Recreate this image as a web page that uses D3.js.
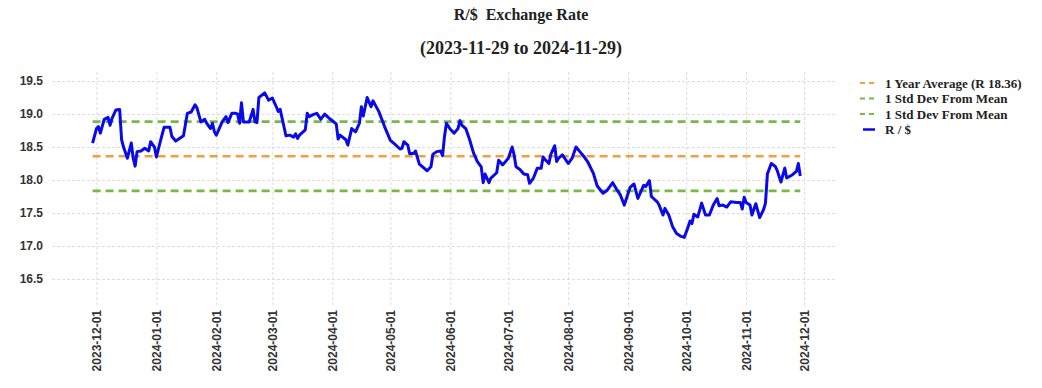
<!DOCTYPE html>
<html>
<head>
<meta charset="utf-8">
<script src="https://cdn.jsdelivr.net/npm/d3@7"></script>
<style>
  body { margin: 0; background: #fff; }
  .grid line { stroke: #d4d4d4; stroke-width: 0.8; stroke-dasharray: 3,2; }
  .grid path { display: none; }
  .tick text { font-family: "Liberation Sans", Arial, sans-serif; font-weight: bold; fill: #333; }
</style>
</head>
<body>
<svg id="chart" width="1042" height="388"></svg>
<script>
var dates = [
  "2023-11-29","2023-12-01","2023-12-02","2023-12-03","2023-12-05","2023-12-07","2023-12-08","2023-12-09",
  "2023-12-11","2023-12-13","2023-12-14","2023-12-15","2023-12-17","2023-12-19","2023-12-20","2023-12-21",
  "2023-12-22","2023-12-24","2023-12-26","2023-12-28","2023-12-29","2023-12-31","2024-01-01","2024-01-03",
  "2024-01-05","2024-01-08","2024-01-09","2024-01-11","2024-01-15","2024-01-17","2024-01-19","2024-01-21",
  "2024-01-22","2024-01-24","2024-01-26","2024-01-27","2024-01-29","2024-01-30","2024-01-31","2024-02-01",
  "2024-02-04","2024-02-06","2024-02-07","2024-02-09","2024-02-11","2024-02-12","2024-02-13","2024-02-14",
  "2024-02-15","2024-02-18","2024-02-20","2024-02-21","2024-02-22","2024-02-23","2024-02-26","2024-02-28",
  "2024-03-01","2024-03-03","2024-03-04","2024-03-05","2024-03-08","2024-03-10","2024-03-12","2024-03-13",
  "2024-03-14","2024-03-15","2024-03-18","2024-03-19","2024-03-20","2024-03-22","2024-03-24","2024-03-26",
  "2024-03-28","2024-03-31","2024-04-03","2024-04-04","2024-04-05","2024-04-08","2024-04-09","2024-04-11",
  "2024-04-13","2024-04-15","2024-04-16","2024-04-17","2024-04-19","2024-04-21","2024-04-22","2024-04-25",
  "2024-04-28","2024-05-01","2024-05-03","2024-05-06","2024-05-07","2024-05-08","2024-05-10","2024-05-11",
  "2024-05-13","2024-05-14","2024-05-16","2024-05-18","2024-05-20","2024-05-22","2024-05-23","2024-05-25",
  "2024-05-27","2024-05-28","2024-05-29","2024-05-30","2024-06-01","2024-06-03","2024-06-05","2024-06-06",
  "2024-06-07","2024-06-09","2024-06-11","2024-06-13","2024-06-15","2024-06-17","2024-06-18","2024-06-19",
  "2024-06-21","2024-06-22","2024-06-25","2024-06-26","2024-06-28","2024-06-29","2024-07-01","2024-07-03",
  "2024-07-04","2024-07-05","2024-07-07","2024-07-09","2024-07-11","2024-07-12","2024-07-14","2024-07-16",
  "2024-07-18","2024-07-19","2024-07-20","2024-07-22","2024-07-23","2024-07-25","2024-07-26","2024-07-27",
  "2024-07-29","2024-08-01","2024-08-03","2024-08-05","2024-08-07","2024-08-09","2024-08-11","2024-08-14",
  "2024-08-16","2024-08-19","2024-08-21","2024-08-24","2024-08-26","2024-08-28","2024-08-30","2024-09-02",
  "2024-09-04","2024-09-06","2024-09-09","2024-09-10","2024-09-12","2024-09-13","2024-09-16","2024-09-17",
  "2024-09-19","2024-09-20","2024-09-22","2024-09-24","2024-09-26","2024-09-28","2024-09-30","2024-10-02",
  "2024-10-03","2024-10-04","2024-10-05","2024-10-07","2024-10-09","2024-10-11","2024-10-13","2024-10-15",
  "2024-10-17","2024-10-18","2024-10-20","2024-10-22","2024-10-24","2024-10-27","2024-10-29","2024-10-30",
  "2024-10-31","2024-11-01","2024-11-03","2024-11-04","2024-11-06","2024-11-08","2024-11-10","2024-11-11",
  "2024-11-12","2024-11-14","2024-11-16","2024-11-17","2024-11-19","2024-11-21","2024-11-22","2024-11-25",
  "2024-11-27","2024-11-28","2024-11-29"
];
var rates = [
  18.56,18.78,18.81,18.71,18.92,18.95,18.83,18.93,
  19.06,19.07,18.61,18.50,18.33,18.56,18.33,18.21,
  18.43,18.44,18.48,18.44,18.58,18.50,18.35,18.58,
  18.80,18.80,18.66,18.59,18.67,19.01,19.03,19.14,
  19.09,18.88,18.92,18.86,18.78,18.86,18.73,18.68,
  18.88,18.96,18.87,19.01,19.01,19.00,18.86,19.17,
  18.88,18.88,19.07,18.88,18.87,19.25,19.32,19.21,
  19.24,19.11,19.04,19.07,18.67,18.68,18.65,18.70,
  18.63,18.68,18.76,19.01,18.96,18.99,19.01,18.92,
  19.00,18.92,18.85,18.62,18.68,18.61,18.53,18.78,
  18.73,18.86,19.11,18.97,19.25,19.11,19.20,19.04,
  18.81,18.60,18.55,18.47,18.48,18.58,18.53,18.40,
  18.40,18.44,18.24,18.19,18.14,18.20,18.39,18.43,
  18.44,18.37,18.66,18.86,18.77,18.71,18.78,18.90,
  18.83,18.78,18.61,18.41,18.28,18.20,17.96,18.09,
  17.96,18.03,18.11,18.30,18.23,18.26,18.33,18.50,
  18.38,18.20,18.16,18.09,18.08,17.95,18.03,18.18,
  18.18,18.35,18.31,18.25,18.39,18.52,18.28,18.33,
  18.38,18.25,18.33,18.50,18.43,18.36,18.28,18.10,
  17.91,17.80,17.84,17.96,17.86,17.77,17.62,17.89,
  17.94,17.72,17.92,17.90,17.99,17.75,17.67,17.62,
  17.47,17.57,17.47,17.29,17.19,17.15,17.13,17.29,
  17.38,17.34,17.48,17.44,17.65,17.47,17.47,17.62,
  17.72,17.61,17.62,17.59,17.67,17.66,17.66,17.56,
  17.74,17.66,17.62,17.47,17.64,17.43,17.55,17.65,
  18.09,18.25,18.21,18.15,17.97,18.18,18.03,18.08,
  18.13,18.25,18.06
];
var yearAvg = 18.36;
var stdDev = 0.525;
var yTicks = [16.5, 17.0, 17.5, 18.0, 18.5, 19.0, 19.5];
var monthTicks = ["2023-12-01","2024-01-01","2024-02-01","2024-03-01","2024-04-01","2024-05-01",
  "2024-06-01","2024-07-01","2024-08-01","2024-09-01","2024-10-01","2024-11-01","2024-12-01"];
var legendLabels = ["1 Year Average (R 18.36)", "1 Std Dev From Mean", "1 Std Dev From Mean", "R / $"];

var svg = d3.select("#chart");
var parse = d3.timeParse("%Y-%m-%d");
var fmt = d3.timeFormat("%Y-%m-%d");
var data = dates.map(function(d, i){ return {date: parse(d), rate: rates[i]}; });

var plotLeft = 52, plotRight = 837, plotTop = 70, plotBottom = 305;
var x = d3.scaleTime()
    .domain([parse("2023-11-08"), parse("2024-12-18")])
    .range([plotLeft, plotRight]);
var y = d3.scaleLinear()
    .domain([16.106, 19.667])
    .range([plotBottom, plotTop]);

// grid
svg.append("g")
    .attr("class", "grid")
    .attr("transform", "translate(0," + plotBottom + ")")
    .call(d3.axisBottom(x).tickValues(monthTicks.map(parse)).tickSize(-(plotBottom - plotTop)).tickFormat(""));
svg.append("g")
    .attr("class", "grid")
    .attr("transform", "translate(" + plotLeft + ",0)")
    .call(d3.axisLeft(y).tickValues(yTicks).tickSize(-(plotRight - plotLeft)).tickFormat(""));

// tick labels
var yAxis = svg.append("g")
    .attr("transform", "translate(" + plotLeft + ",0)")
    .call(d3.axisLeft(y).tickValues(yTicks).tickSize(0).tickPadding(9).tickFormat(d3.format(".1f")));
yAxis.select(".domain").remove();
yAxis.selectAll("text").attr("font-size", 12);

var xAxis = svg.append("g")
    .attr("transform", "translate(0," + plotBottom + ")")
    .call(d3.axisBottom(x).tickValues(monthTicks.map(parse)).tickSize(0).tickFormat(fmt));
xAxis.select(".domain").remove();
xAxis.selectAll("text")
    .attr("font-size", 12)
    .attr("text-anchor", "end")
    .attr("transform", "rotate(-90)")
    .attr("x", -5)
    .attr("y", 0)
    .attr("dy", "0.35em");

// reference lines
var first = data[0].date, last = data[data.length - 1].date;
var refLines = [
  {v: yearAvg, color: "#f0a03c"},
  {v: yearAvg + stdDev, color: "#76b947"},
  {v: yearAvg - stdDev, color: "#76b947"}
];
svg.selectAll(".ref")
    .data(refLines)
    .enter()
    .append("line")
    .attr("class", "ref")
    .attr("x1", x(first))
    .attr("x2", x(last))
    .attr("y1", function(d){ return y(d.v); })
    .attr("y2", function(d){ return y(d.v); })
    .attr("stroke", function(d){ return d.color; })
    .attr("stroke-width", 2.6)
    .attr("stroke-dasharray", "8,5");

// rate line
var line = d3.line()
    .x(function(d){ return x(d.date); })
    .y(function(d){ return y(d.rate); });
svg.append("path")
    .datum(data)
    .attr("fill", "none")
    .attr("stroke", "#0a0ae8")
    .attr("stroke-width", 3)
    .attr("stroke-linejoin", "round")
    .attr("d", line);

// titles
svg.append("text")
    .attr("x", 521).attr("y", 20)
    .attr("text-anchor", "middle")
    .attr("font-family", "Liberation Serif, serif")
    .attr("font-weight", "bold")
    .attr("font-size", 16)
    .attr("fill", "#222")
    .attr("xml:space", "preserve")
    .text("R/$  Exchange Rate");
svg.append("text")
    .attr("x", 521).attr("y", 54)
    .attr("text-anchor", "middle")
    .attr("font-family", "Liberation Serif, serif")
    .attr("font-weight", "bold")
    .attr("font-size", 18)
    .attr("fill", "#222")
    .text("(2023-11-29 to 2024-11-29)");

// legend
var legendColors = ["#f0a03c", "#76b947", "#76b947", "#0a0ae8"];
var legend = svg.selectAll(".legend")
    .data(legendLabels)
    .enter()
    .append("g")
    .attr("class", "legend")
    .attr("transform", function(d, i){ return "translate(860," + (83 + i * 15.5) + ")"; });
legend.append("line")
    .attr("x1", function(d, i){ return i < 3 ? 0 : 3; })
    .attr("x2", 15)
    .attr("stroke", function(d, i){ return legendColors[i]; })
    .attr("stroke-width", function(d, i){ return i < 3 ? 2 : 2.5; })
    .attr("stroke-dasharray", function(d, i){ return i < 3 ? "5,4" : null; });
legend.append("text")
    .attr("x", 25)
    .attr("dy", "0.35em")
    .attr("font-family", "Liberation Serif, serif")
    .attr("font-weight", "bold")
    .attr("font-size", 13)
    .attr("fill", "#222")
    .text(function(d){ return d; });
</script>
</body>
</html>
